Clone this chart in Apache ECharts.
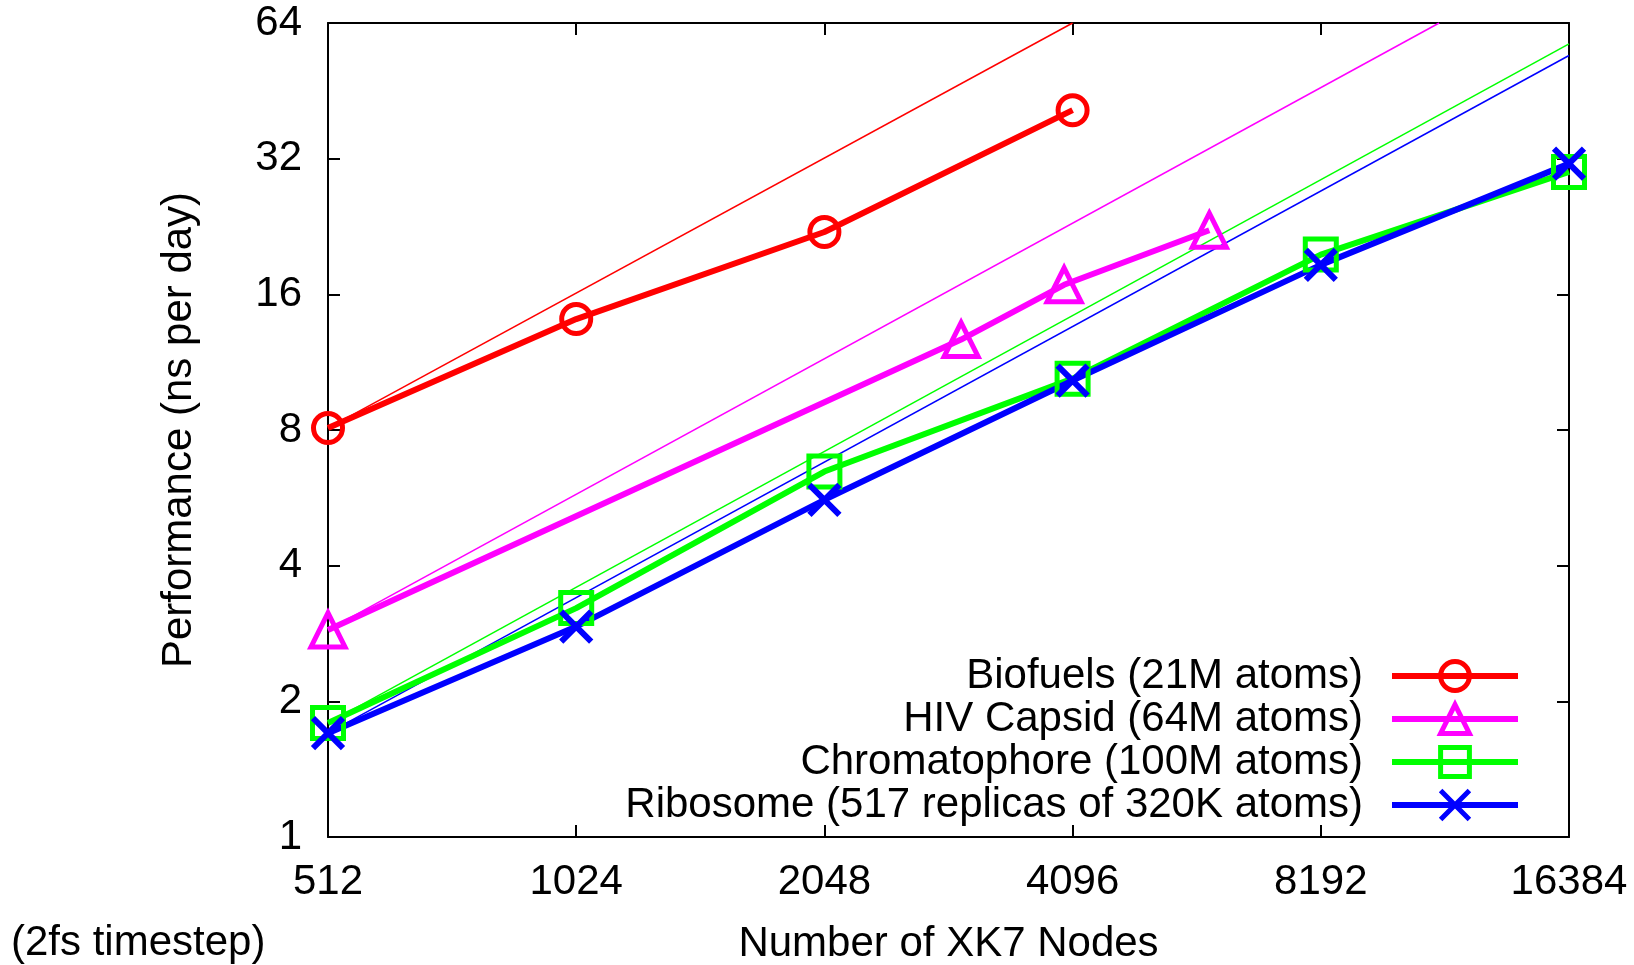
<!DOCTYPE html>
<html>
<head>
<meta charset="utf-8">
<script src="https://cdn.jsdelivr.net/npm/echarts@6/dist/echarts.min.js"></script>
<style>
  html, body { margin: 0; padding: 0; background: #fff; }
  #main { width: 1634px; height: 965px; }
</style>
</head>
<body>
<div id="main"></div>
<script>
// node counts and measured performance (ns per day)
var biofuelsNodes = [512, 1024, 2048, 4096];
var biofuelsPerf = [8.08, 14.1, 22.0, 41.0];

var hivNodes = [512, 3000, 4000, 6000];
var hivPerf = [2.88, 12.7, 16.8, 22.2];

var chromNodes = [512, 1024, 2048, 4096, 8192, 16384];
var chromPerf = [1.79, 3.22, 6.47, 10.4, 19.6, 29.9];

var riboNodes = [512, 1024, 2048, 4096, 8192, 16384];
var riboPerf = [1.70, 2.93, 5.6, 10.3, 18.6, 31.2];

// ideal scaling lines (start point, point where they leave the frame)
var biofuelsIdeal = [[512, 8.08], [4096, 64]];
var hivIdeal = [[512, 2.88], [11400, 64]];
var chromIdeal = [[512, 1.79], [16384, 57.5]];
var riboIdeal = [[512, 1.70], [16384, 54.2]];

var seriesNames = [
  'Biofuels (21M atoms)',
  'HIV Capsid (64M atoms)',
  'Chromatophore (100M atoms)',
  'Ribosome (517 replicas of 320K atoms)'
];

var FONT = 'Liberation Sans';
var FS = 42;
var chart = echarts.init(document.getElementById('main'));

function pairs(xs, ys) {
  var out = [];
  for (var i = 0; i < xs.length; i++) out.push([xs[i], ys[i]]);
  return out;
}

function dataSeries(name, xs, ys, color, symbol, size, bw) {
  return {
    name: name,
    type: 'line',
    data: pairs(xs, ys),
    symbol: symbol,
    symbolSize: size,
    showSymbol: true,
    lineStyle: { color: color, width: 6 },
    itemStyle: { color: 'transparent', borderColor: color, borderWidth: bw },
    z: 3
  };
}

function idealSeries(pts, color) {
  return {
    name: 'ideal',
    type: 'line',
    data: pts,
    symbol: 'none',
    lineStyle: { color: color, width: 1.5 },
    clip: true,
    z: 2
  };
}

var crossPath = 'path://M0,0L10,10M10,0L0,10';

var option = {
  animation: false,
  backgroundColor: '#fff',
  textStyle: { fontFamily: FONT },
  grid: { left: 328, right: 65, top: 23, bottom: 128, outerBoundsMode: 'none', containLabel: false },
  title: {
    text: '(2fs timestep)',
    left: 11,
    top: 922,
    padding: 0,
    textStyle: { fontFamily: FONT, fontSize: FS, fontWeight: 'normal', color: '#000' }
  },
  legend: {
    data: seriesNames,
    orient: 'vertical',
    right: 108,
    top: 650,
    align: 'right',
    itemWidth: 126,
    itemHeight: 36,
    itemGap: 1,
    selectedMode: false,
    lineStyle: { width: 6 },
    itemStyle: { borderWidth: 5 },
    textStyle: { fontFamily: FONT, fontSize: FS, lineHeight: 36, color: '#000', padding: [0, 24, 0, 0] }
  },
  xAxis: [{
    type: 'log',
    logBase: 2,
    min: 512,
    max: 16384,
    name: 'Number of XK7 Nodes',
    nameLocation: 'middle',
    nameGap: 86,
    nameTextStyle: { fontFamily: FONT, fontSize: FS, color: '#000' },
    axisLine: { show: true, lineStyle: { color: '#000', width: 2 } },
    axisTick: { show: true, inside: true, length: 12, lineStyle: { color: '#000', width: 2 } },
    axisLabel: {
      fontFamily: FONT, fontSize: FS, color: '#000', margin: 24,
      formatter: function (v) { return String(Math.round(v)); }
    },
    splitLine: { show: false }
  }, {
    type: 'log',
    logBase: 2,
    min: 512,
    max: 16384,
    position: 'top',
    axisLine: { show: true, lineStyle: { color: '#000', width: 2 } },
    axisTick: { show: true, inside: true, length: 12, lineStyle: { color: '#000', width: 2 } },
    axisLabel: { show: false },
    splitLine: { show: false }
  }],
  yAxis: [{
    type: 'log',
    logBase: 2,
    min: 1,
    max: 64,
    name: 'Performance (ns per day)',
    nameLocation: 'middle',
    nameGap: 128,
    nameRotate: 90,
    nameTextStyle: { fontFamily: FONT, fontSize: FS, color: '#000' },
    axisLine: { show: true, lineStyle: { color: '#000', width: 2 } },
    axisTick: { show: true, inside: true, length: 12, lineStyle: { color: '#000', width: 2 } },
    axisLabel: {
      fontFamily: FONT, fontSize: FS, color: '#000', margin: 26,
      formatter: function (v) { return String(Math.round(v)); }
    },
    splitLine: { show: false }
  }, {
    type: 'log',
    logBase: 2,
    min: 1,
    max: 64,
    position: 'right',
    axisLine: { show: true, lineStyle: { color: '#000', width: 2 } },
    axisTick: { show: true, inside: true, length: 12, lineStyle: { color: '#000', width: 2 } },
    axisLabel: { show: false },
    splitLine: { show: false }
  }],
  series: [
    dataSeries(seriesNames[0], biofuelsNodes, biofuelsPerf, '#ff0000', 'circle', 29, 5),
    idealSeries(biofuelsIdeal, '#ff0000'),
    dataSeries(seriesNames[1], hivNodes, hivPerf, '#ff00ff', 'triangle', 34, 5),
    idealSeries(hivIdeal, '#ff00ff'),
    dataSeries(seriesNames[2], chromNodes, chromPerf, '#00ff00', 'rect', 31, 5),
    idealSeries(chromIdeal, '#00ff00'),
    dataSeries(seriesNames[3], riboNodes, riboPerf, '#0000ff', crossPath, 30, 6),
    idealSeries(riboIdeal, '#0000ff')
  ]
};

chart.setOption(option);
</script>
</body>
</html>
